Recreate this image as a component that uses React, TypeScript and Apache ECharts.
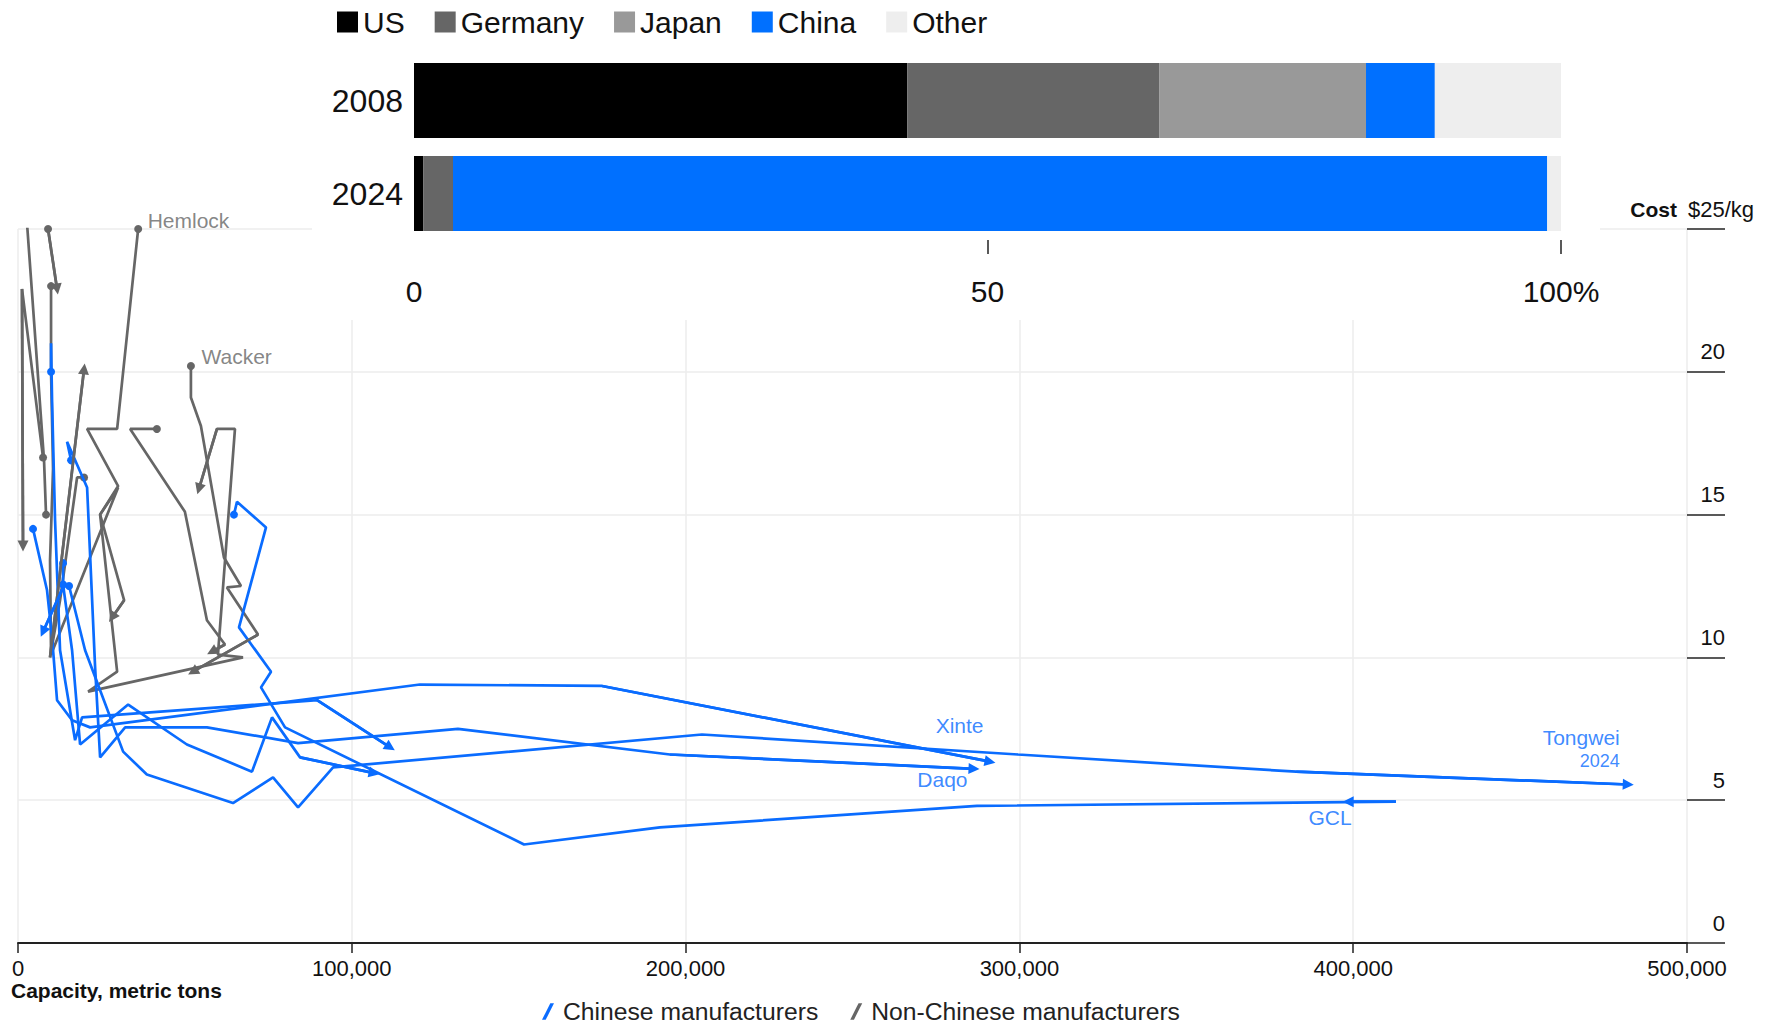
import React, { useEffect, useRef } from 'react';
import * as echarts from 'echarts';

const BLUE = '#0a6cff';
const GRAY = '#666666';
const FONT = 'Liberation Sans, Arial, sans-serif';

// ---- Top inset: share of global polysilicon capacity (%) ----
const barYears = ['2008', '2024'];
const shareUS = [43, 0.8];
const shareGermany = [22, 2.6];
const shareJapan = [18, 0];
const shareChina = [6, 95.4];
const shareOther = [11, 1.2];
const barTicks = [50, 100];

// ---- Main chart: [capacity (metric tons), cost ($/kg)] per year ----
// Non-Chinese manufacturers
const hemlock = [[36000, 25.0], [29700, 18.0], [20700, 18.0], [30000, 16.0], [24600, 15.0], [31800, 12.0], [28200, 11.4]];
const wacker = [[51800, 20.2], [51800, 19.1], [54800, 18.1], [61700, 13.5], [66800, 12.5], [62600, 12.45], [71900, 10.8], [52400, 9.5]];
const gray1 = [[9000, 25.0], [11700, 22.9]];
const gray4 = [[41600, 18.0], [33600, 18.0], [50000, 15.1], [56600, 11.3], [62000, 10.45], [58100, 10.2]];
const gray5 = [[7500, 17.0], [1200, 22.9], [1500, 13.9]];
const gray6 = [[8400, 15.0], [7800, 16.9], [2700, 25.2]];
const gray7 = [[9900, 23.0], [9900, 20.0], [10500, 16.6], [9600, 13.4], [9900, 10.1], [30000, 15.95], [24600, 15.0], [29700, 9.5], [21000, 8.8], [67400, 10.0], [59900, 10.1], [65000, 18.0], [59600, 18.0], [54200, 15.9]];
const gray8 = [[19800, 16.3], [17700, 16.3], [12600, 12.0], [9600, 10.0], [19800, 20.1]];

// Chinese manufacturers
const tongwei = [[15300, 12.5], [20100, 10.25], [31500, 6.7], [38600, 5.9], [64400, 4.9], [76400, 5.8], [83900, 4.75], [94400, 6.15], [204900, 7.3], [299600, 6.6], [382900, 6.0], [482400, 5.55]];
const gcl = [[64700, 15.0], [65600, 15.45], [74300, 14.55], [66200, 11.05], [75800, 9.5], [72800, 8.95], [80000, 7.55], [151600, 3.45], [192300, 4.05], [287300, 4.8], [412800, 4.95], [398500, 4.95]];
const daqo = [[15900, 16.9], [14700, 17.55], [20700, 15.95], [23100, 9.65], [24600, 6.5], [32100, 7.55], [56600, 7.55], [83900, 7.0], [131800, 7.5], [195300, 6.6], [286400, 6.1]];
const xinte = [[4500, 14.5], [8700, 12.35], [10200, 10.7], [11700, 8.5], [16200, 7.8], [21600, 7.55], [120400, 9.05], [175000, 9.0], [291200, 6.35]];
const blue5 = [[9900, 20.0], [9900, 21.0], [10200, 19.0], [11100, 14.8], [12600, 10.25], [17100, 7.1], [19200, 7.9], [89600, 8.5], [111500, 6.85]];
const blue6 = [[13500, 12.55], [16200, 10.25], [18600, 6.95], [33000, 8.35], [50600, 6.95], [70100, 6.0], [76100, 7.9], [84500, 6.5], [106700, 5.95]];
const blue7 = [[13500, 13.3], [13500, 12.45], [7500, 10.9]];

const capTicks = [0, 100000, 200000, 300000, 400000, 500000];

const nonChineseTracks = [gray1, gray5, gray6, gray8, gray4, gray7, hemlock, wacker];
const chineseTracks = [blue7, blue6, blue5, daqo, xinte, gcl, tongwei];

function trackSeries(pts: number[][], color: string, name: string, z: number) {
  const n = pts.length;
  return {
    type: 'line',
    name,
    xAxisIndex: 0,
    yAxisIndex: 0,
    color,
    silent: true,
    z,
    symbol: 'none',
    showSymbol: true,
    lineStyle: { color, width: 2.7 },
    itemStyle: { color },
    data: pts.map((p, i) => (i === 0 ? { value: p, symbol: 'circle', symbolSize: 8 } : { value: p })),
    markLine: {
      silent: true,
      animation: false,
      symbol: ['none', 'triangle'],
      symbolSize: 11,
      label: { show: false },
      lineStyle: { color, width: 2.7, type: 'solid' },
      data: [[{ coord: pts[n - 2] }, { coord: pts[n - 1] }]],
    },
  };
}

const labelItems = [
  { value: hemlock[0], label: { show: true, formatter: 'Hemlock', color: GRAY, position: [10, -8], align: 'left', verticalAlign: 'middle', fontSize: 21 } },
  { value: wacker[0], label: { show: true, formatter: 'Wacker', color: GRAY, position: [11, -9], align: 'left', verticalAlign: 'middle', fontSize: 21 } },
  { value: xinte[xinte.length - 1], label: { show: true, formatter: 'Xinte', color: BLUE, position: [-6, -36], align: 'right', verticalAlign: 'middle', fontSize: 21 } },
  { value: daqo[daqo.length - 1], label: { show: true, formatter: 'Daqo', color: BLUE, position: [-6, 11], align: 'right', verticalAlign: 'middle', fontSize: 21 } },
  { value: gcl[gcl.length - 1], label: { show: true, formatter: 'GCL', color: BLUE, position: [4, 16], align: 'right', verticalAlign: 'middle', fontSize: 21 } },
  {
    value: tongwei[tongwei.length - 1],
    label: {
      show: true,
      formatter: '{a|Tongwei}\n{b|2024}',
      position: [-8, -12],
      align: 'right',
      verticalAlign: 'bottom',
      rich: {
        a: { fontSize: 21, color: BLUE, align: 'right', lineHeight: 25, fontFamily: FONT },
        b: { fontSize: 18, color: BLUE, align: 'right', lineHeight: 22, fontFamily: FONT },
      },
    },
  },
];

function buildOption() {
  const series: any[] = [];
  const barDefs = [
    { name: 'US', data: shareUS, color: '#000000' },
    { name: 'Germany', data: shareGermany, color: '#666666' },
    { name: 'Japan', data: shareJapan, color: '#999999' },
    { name: 'China', data: shareChina, color: '#0070ff' },
    { name: 'Other', data: shareOther, color: '#eeeeee' },
  ];
  barDefs.forEach((b) => {
    series.push({
      type: 'bar',
      name: b.name,
      stack: 'share',
      xAxisIndex: 1,
      yAxisIndex: 1,
      barWidth: 75,
      silent: true,
      z: 3,
      itemStyle: { color: b.color },
      data: b.data,
    });
  });
  nonChineseTracks.forEach((t) => series.push(trackSeries(t, GRAY, 'Non-Chinese manufacturers', 3)));
  chineseTracks.forEach((t) => series.push(trackSeries(t, BLUE, 'Chinese manufacturers', 4)));
  series.push({
    type: 'scatter',
    name: 'labels',
    xAxisIndex: 0,
    yAxisIndex: 0,
    symbolSize: 1,
    silent: true,
    z: 6,
    itemStyle: { color: 'rgba(0,0,0,0)' },
    data: labelItems,
  });

  return {
    animation: false,
    backgroundColor: '#ffffff',
    textStyle: { fontFamily: FONT },
    legend: [
      {
        data: ['US', 'Germany', 'Japan', 'China', 'Other'],
        left: 332,
        top: 2,
        icon: 'rect',
        itemWidth: 21,
        itemHeight: 21,
        itemGap: 30,
        selectedMode: false,
        textStyle: { fontSize: 30, color: '#111', fontFamily: FONT },
      },
      {
        data: ['Chinese manufacturers', 'Non-Chinese manufacturers'],
        left: 537,
        top: 994,
        icon: 'path://M9,0 L13,0 L4,18 L0,18 Z',
        itemWidth: 12,
        itemHeight: 18,
        itemGap: 32,
        selectedMode: false,
        textStyle: { fontSize: 24.7, color: '#222', fontFamily: FONT, padding: [0, 0, 0, 4] },
      },
    ],
    grid: [
      { left: 18, right: 92, top: 229, bottom: 83, containLabel: false },
      { left: 414, right: 218, top: 54, height: 186, containLabel: false },
    ],
    xAxis: [
      {
        type: 'value',
        gridIndex: 0,
        min: capTicks[0],
        max: capTicks[capTicks.length - 1],
        interval: 100000,
        axisLine: { show: true, onZero: false, lineStyle: { color: '#222', width: 2 } },
        axisTick: { show: true, length: 10, lineStyle: { color: '#222', width: 1.5 } },
        axisLabel: {
          fontSize: 22,
          color: '#111',
          margin: 14,
          formatter: (v: number) => v.toLocaleString('en-US'),
        },
        splitLine: { show: true, lineStyle: { color: '#ececec', width: 1.5 } },
      },
      {
        type: 'value',
        gridIndex: 1,
        min: 0,
        max: 100,
        interval: 50,
        z: 5,
        axisLine: { show: false, onZero: false },
        axisTick: { show: true, length: 14, customValues: barTicks, lineStyle: { color: '#222', width: 1.5 } },
        axisLabel: {
          fontSize: 30,
          color: '#111',
          margin: 36,
          formatter: (v: number) => (v === 100 ? '100%' : String(v)),
        },
        splitLine: { show: false },
      },
    ],
    yAxis: [
      {
        type: 'value',
        gridIndex: 0,
        position: 'right',
        min: 0,
        max: 25,
        interval: 5,
        axisLine: { show: false, onZero: false },
        axisTick: { show: true, length: 38, lineStyle: { color: '#222', width: 1.5 } },
        axisLabel: {
          fontSize: 22,
          color: '#111',
          margin: 38,
          align: 'right',
          verticalAlign: 'bottom',
          padding: [0, 0, 9, 0],
          formatter: (v: number) => (v === 25 ? '' : String(v)),
        },
        splitLine: { show: true, lineStyle: { color: '#ececec', width: 1.5 } },
      },
      {
        type: 'category',
        gridIndex: 1,
        data: barYears,
        inverse: true,
        z: 5,
        axisLine: { show: false, onZero: false },
        axisTick: { show: false },
        axisLabel: { fontSize: 32, color: '#111', margin: 11 },
        splitLine: { show: false },
      },
    ],
    graphic: {
      elements: [
        {
          type: 'rect',
          z: 1,
          silent: true,
          shape: { x: 312, y: 0, width: 1288, height: 320 },
          style: { fill: '#ffffff' },
        },
        {
          type: 'text',
          z: 10,
          x: 1677,
          y: 209,
          style: {
            text: 'Cost',
            font: 'bold 21px ' + FONT,
            fill: '#111',
            align: 'right',
            verticalAlign: 'middle',
            textAlign: 'right',
            textVerticalAlign: 'middle',
          },
        },
        {
          type: 'text',
          z: 10,
          x: 1688,
          y: 209,
          style: {
            text: '$25/kg',
            font: '22px ' + FONT,
            fill: '#111',
            align: 'left',
            verticalAlign: 'middle',
            textAlign: 'left',
            textVerticalAlign: 'middle',
          },
        },
        {
          type: 'text',
          z: 10,
          x: 11,
          y: 990,
          style: {
            text: 'Capacity, metric tons',
            font: 'bold 21px ' + FONT,
            fill: '#111',
            align: 'left',
            verticalAlign: 'middle',
            textAlign: 'left',
            textVerticalAlign: 'middle',
          },
        },
      ],
    },
    series,
  };
}

export default function App() {
  const ref = useRef<HTMLDivElement>(null);
  useEffect(() => {
    if (!ref.current) return;
    const chart = echarts.init(ref.current, null, { renderer: 'svg' });
    chart.setOption(buildOption() as any);
    return () => chart.dispose();
  }, []);
  return (
    <div
      ref={ref}
      style={{ position: 'fixed', left: 0, top: 0, width: 1779, height: 1026, background: '#ffffff' }}
    />
  );
}
